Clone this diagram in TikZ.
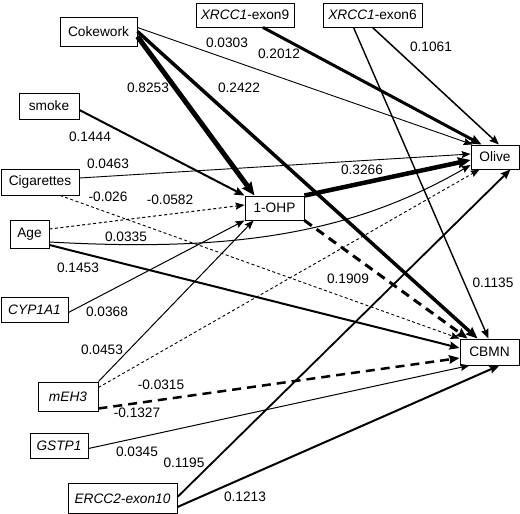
\documentclass[tikz,border=0pt]{standalone}
\usepackage{fontspec}
\setmainfont{Liberation Sans}
\usetikzlibrary{arrows.meta,calc}
\begin{document}
\begin{tikzpicture}[x=1pt,y=-1pt,
  box/.style={draw, line width=0.9pt, inner sep=0pt, font=\fontsize{13.7}{15}\selectfont},
  lab/.style={font=\fontsize{13.7}{15}\selectfont, inner sep=0pt},
  arr/.style={-{Stealth[length=8pt 1, width=6pt 1, inset=1.2pt]}},
  thin/.style={line width=0.9pt},
  mid/.style={line width=1.8pt},
  sdash/.style={dash pattern=on 3pt off 2.5pt},
  ldash/.style={dash pattern=on 9pt off 6pt}
]
\useasboundingbox (0,0) rectangle (520,514);
% nodes
\node[box, minimum width=77pt, minimum height=29pt] (cw) at (98.5,31.5) {Cokework};
\node[box, minimum width=98pt, minimum height=24pt] (x9) at (245,15) {\itshape XRCC1\upshape-exon9};
\node[box, minimum width=99pt, minimum height=24pt] (x6) at (372.5,15) {\itshape XRCC1\upshape-exon6};
\node[box, minimum width=60pt, minimum height=26pt] (smoke) at (49,106) {smoke};
\node[box, minimum width=78pt, minimum height=26pt] (cig) at (40,182) {Cigarettes};
\node[box, minimum width=39pt, minimum height=28pt] (age) at (29.5,234) {Age};
\node[box, minimum width=59pt, minimum height=24pt] (ohp) at (274.5,208) {1-OHP};
\node[box, minimum width=48pt, minimum height=24pt] (olive) at (495,157) {Olive};
\node[box, minimum width=67pt, minimum height=25pt] (cyp) at (34.5,309.5) {\itshape CYP1A1};
\node[box, minimum width=60pt, minimum height=29pt] (meh) at (68,396.5) {\itshape mEH3};
\node[box, minimum width=58pt, minimum height=25pt] (gst) at (59,445.5) {\itshape GSTP1};
\node[box, minimum width=109pt, minimum height=30pt] (erc) at (122.5,498.5) {\itshape ERCC2-exon10};
\node[box, minimum width=59pt, minimum height=26pt] (cbmn) at (489.5,352) {CBMN};
% connectors
\draw[arr, thin] ($(cw.east)+(0,-4)$) -- ($(olive.north west)+(2,0)$);
\draw[arr, line width=5pt] ($(cw.east)+(0,5)$) -- ($(ohp.north west)+(10,0)$);
\draw[arr, line width=3.5pt] (cw.east) -- ($(cbmn.north west)+(18,0)$);
\draw[arr, line width=3pt] ($(x9.south)+(18,0)$) -- ($(olive.north west)+(11,0)$);
\draw[arr, line width=1.5pt] (x6.south) -- ($(olive.north)+(4,0)$);
\draw[arr, line width=1.4pt] ($(x6.south)+(-19,0)$) -- ($(cbmn.north)+(-1,0)$);
\draw[arr, line width=2pt] ($(smoke.east)+(0,4)$) -- (ohp.north west);
\draw[arr, thin] ($(cig.east)+(0,-4)$) -- ($(olive.west)+(0,-3)$);
\draw[arr, thin, sdash] ($(cig.south)+(20,0)$) -- (cbmn.north west);
\draw[arr, line width=1pt, sdash] ($(age.east)+(0,-5)$) -- ($(ohp.west)+(0,-3)$);
\draw[arr, line width=1pt] ($(age.east)+(0,8)$) .. controls +(181,10) and +(-121,70) .. ($(olive.west)+(0,8)$);
\draw[arr, line width=2pt] ($(age.east)+(0,11)$) -- ($(cbmn.west)+(0,-4)$);
\draw[arr, line width=1pt] ($(cyp.east)+(0,3)$) -- (ohp.south west);
\draw[arr, line width=1pt] (meh.north east) -- ($(ohp.south west)+(9,0)$);
\draw[arr, thin, sdash] ($(meh.east)+(0,-9)$) -- ($(olive.south west)+(9,0)$);
\draw[arr, line width=2.5pt, ldash] ($(meh.east)+(0,12)$) -- ($(cbmn.west)+(0,6)$);
\draw[arr, line width=4.5pt] (ohp.north east) -- ($(olive.west)+(0,3)$);
\draw[arr, line width=3pt, ldash] (ohp.south east) -- ($(cbmn.north west)+(8,0)$);
\draw[arr, line width=1pt] ($(gst.east)+(0,3)$) -- ($(cbmn.south west)+(10,0)$);
\draw[arr, mid] ($(erc.east)+(0,-1.5)$) -- ($(olive.south east)+(-9,0)$);
\draw[arr, line width=2pt] ($(erc.east)+(0,8.5)$) -- ($(cbmn.south)+(10,0)$);
% labels
\node[lab] (l1) at (227,43) {0.0303};
\node[lab] (l2) at (279,54) {0.2012};
\node[lab] (l3) at (431,47) {0.1061};
\node[lab] (l4) at (148,88) {0.8253};
\node[lab] (l5) at (239,88) {0.2422};
\node[lab] (l6) at (90,137) {0.1444};
\node[lab] (l7) at (108,164) {0.0463};
\node[lab] (l8) at (108,197) {-0.026};
\node[lab] (l9) at (170,200) {-0.0582};
\node[lab] (l10) at (126,237) {0.0335};
\node[lab] (l11) at (362,170) {0.3266};
\node[lab] (l12) at (78,268) {0.1453};
\node[lab] (l13) at (107,312) {0.0368};
\node[lab] (l14) at (348,279) {0.1909};
\node[lab] (l15) at (493,283) {0.1135};
\node[lab] (l16) at (102,350) {0.0453};
\node[lab] (l17) at (161,385) {-0.0315};
\node[lab] (l18) at (137,413) {-0.1327};
\node[lab] (l19) at (137,452) {0.0345};
\node[lab] (l20) at (184,463) {0.1195};
\node[lab] (l21) at (245,497) {0.1213};
\end{tikzpicture}
\end{document}
